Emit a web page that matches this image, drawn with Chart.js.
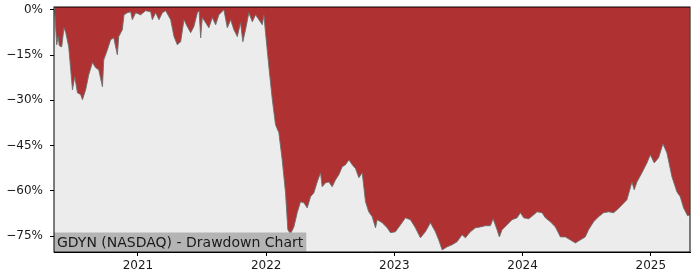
<!DOCTYPE html>
<html>
<head>
<meta charset="utf-8">
<script src="https://cdn.jsdelivr.net/npm/chart.js"></script>
<style>
  body { margin: 0; background: #fff; }
</style>
</head>
<body>
<canvas id="ddChart" width="700" height="280"></canvas>
<script>
// ── Data (decimal year, drawdown %) ─────────────────────────────────────

const dates = [
  2020.350, 2020.366, 2020.378, 2020.386, 2020.405, 2020.423, 2020.437, 2020.460, 2020.489, 2020.507,
  2020.528, 2020.553, 2020.567, 2020.592, 2020.616, 2020.645, 2020.670, 2020.694, 2020.723, 2020.733,
  2020.762, 2020.787, 2020.811, 2020.839, 2020.850, 2020.878, 2020.891, 2020.917, 2020.943, 2020.956,
  2020.982, 2021.021, 2021.060, 2021.099, 2021.112, 2021.138, 2021.164, 2021.190, 2021.216, 2021.255,
  2021.281, 2021.307, 2021.333, 2021.359, 2021.385, 2021.411, 2021.436, 2021.463, 2021.477, 2021.489,
  2021.502, 2021.528, 2021.553, 2021.580, 2021.606, 2021.631, 2021.670, 2021.697, 2021.723, 2021.748,
  2021.775, 2021.800, 2021.818, 2021.839, 2021.865, 2021.892, 2021.917, 2021.943, 2021.970, 2021.982,
  2021.995, 2022.021, 2022.048, 2022.073, 2022.099, 2022.125, 2022.151, 2022.169, 2022.190, 2022.216,
  2022.242, 2022.268, 2022.294, 2022.320, 2022.346, 2022.372, 2022.398, 2022.424, 2022.437, 2022.463,
  2022.489, 2022.515, 2022.541, 2022.567, 2022.593, 2022.619, 2022.645, 2022.671, 2022.697, 2022.723,
  2022.749, 2022.775, 2022.800, 2022.827, 2022.853, 2022.866, 2022.905, 2022.944, 2022.970, 2023.008,
  2023.048, 2023.086, 2023.125, 2023.164, 2023.203, 2023.242, 2023.281, 2023.320, 2023.346, 2023.373,
  2023.411, 2023.450, 2023.489, 2023.528, 2023.554, 2023.593, 2023.632, 2023.671, 2023.710, 2023.749,
  2023.770, 2023.801, 2023.819, 2023.840, 2023.879, 2023.918, 2023.957, 2023.983, 2024.009, 2024.048,
  2024.087, 2024.113, 2024.152, 2024.178, 2024.217, 2024.256, 2024.295, 2024.334, 2024.373, 2024.412,
  2024.450, 2024.489, 2024.515, 2024.554, 2024.593, 2024.632, 2024.671, 2024.710, 2024.737, 2024.776,
  2024.814, 2024.853, 2024.871, 2024.892, 2024.931, 2024.970, 2024.996, 2025.027, 2025.061, 2025.095,
  2025.126, 2025.165, 2025.204, 2025.230, 2025.256, 2025.287, 2025.304
];

const drawdown = [
  0.0, -11.6, -8.9, -11.9, -12.3, -6.0, -7.6, -12.3, -26.5, -22.2,
  -27.5, -28.1, -29.8, -26.5, -21.5, -17.5, -19.2, -19.9, -25.5, -16.6,
  -13.2, -9.9, -9.3, -14.9, -8.9, -6.6, -1.7, -1.0, -0.7, -3.3,
  -1.0, -1.7, -0.3, -0.7, -3.3, -1.0, -3.3, -1.0, -0.3, -3.3,
  -8.9, -11.6, -10.6, -3.3, -5.6, -7.6, -5.6, -1.0, -0.3, -9.3,
  -2.6, -4.3, -6.0, -2.6, -5.0, -1.7, 0.0, -6.0, -3.3, -6.6,
  -8.9, -4.3, -10.6, -6.6, -1.0, -4.0, -1.7, -3.3, -5.0, -1.7,
  -7.6, -18.9, -29.8, -38.1, -40.7, -49.7, -60.6, -72.8, -74.2, -71.9,
  -67.2, -63.6, -63.9, -65.6, -61.9, -60.6, -57.0, -54.0, -58.6, -57.3,
  -57.0, -58.6, -56.3, -54.6, -52.0, -51.3, -49.7, -51.3, -52.6, -55.6,
  -54.0, -63.6, -66.9, -68.5, -72.2, -69.5, -70.5, -72.2, -73.8, -73.5,
  -71.2, -68.9, -69.5, -72.2, -75.5, -73.5, -70.5, -73.5, -76.2, -79.5,
  -78.5, -77.8, -76.8, -74.5, -75.5, -73.5, -72.2, -71.9, -71.5, -71.5,
  -69.2, -72.8, -75.2, -72.8, -71.2, -69.5, -68.9, -67.2, -68.9, -69.2,
  -67.9, -66.9, -67.2, -68.9, -70.2, -71.9, -75.2, -75.2, -76.2, -77.2,
  -76.2, -75.2, -72.8, -70.2, -68.5, -67.2, -66.9, -67.2, -66.2, -64.6,
  -62.9, -57.0, -59.6, -57.0, -54.0, -50.7, -48.0, -50.7, -49.0, -44.4,
  -47.4, -55.3, -60.3, -61.9, -65.6, -68.2, -67.9
];

const yearTicks = [2021, 2022, 2023, 2024, 2025];
const pctTicks  = [0, -15, -30, -45, -60, -75];
const chartLabel = 'GDYN (NASDAQ) - Drawdown Chart';

// ── Plugins ─────────────────────────────────────────────────────────────

const FONT = "'DejaVu Sans', sans-serif";

const plotBackground = {
  id: 'plotBackground',
  beforeDatasetsDraw(chart) {
    const { ctx, chartArea: a } = chart;
    ctx.save();
    ctx.fillStyle = '#ececec';
    ctx.fillRect(a.left, a.top, a.right - a.left, a.bottom - a.top);
    ctx.restore();
  },
};

const frameAndLabel = {
  id: 'frameAndLabel',
  afterDraw(chart) {
    const { ctx, chartArea: a } = chart;
    ctx.save();
    // label box, bottom-left inside the plot
    ctx.font = `14px ${FONT}`;
    const w = ctx.measureText(chartLabel).width;
    ctx.fillStyle = '#b4b4b4';
    ctx.fillRect(a.left, a.bottom - 19.5, w + 6, 19);
    ctx.fillStyle = '#1a1a1a';
    ctx.textBaseline = 'alphabetic';
    ctx.fillText(chartLabel, a.left + 3, a.bottom - 5.5);
    // spines
    ctx.strokeStyle = '#000';
    ctx.lineWidth = 1;
    ctx.strokeRect(a.left, a.top, a.right - a.left, a.bottom - a.top);
    ctx.restore();
  },
};

// ── Chart ───────────────────────────────────────────────────────────────

new Chart(document.getElementById('ddChart'), {
  type: 'line',
  data: {
    datasets: [{
      data: dates.map((d, i) => ({ x: d, y: drawdown[i] })),
      borderColor: 'rgba(110, 110, 110, 0.9)',
      borderWidth: 1,
      backgroundColor: '#b03131',
      fill: 'end',
      pointRadius: 0,
      tension: 0,
    }],
  },
  options: {
    responsive: false,
    animation: false,
    layout: { padding: { top: 7, right: 10, left: 0, bottom: 0 } },
    plugins: {
      legend: { display: false },
      tooltip: { enabled: false },
    },
    scales: {
      x: {
        type: 'linear',
        min: 2020.345,
        max: 2025.306,
        afterBuildTicks: s => { s.ticks = yearTicks.map(v => ({ value: v })); },
        afterFit: s => { s.height = 28; s.paddingLeft = 0; s.paddingRight = 0; },
        ticks: {
          color: '#1a1a1a',
          font: { family: FONT, size: 12 },
          padding: 3,
          maxRotation: 0,
          callback: v => String(v),
        },
        grid: { drawOnChartArea: false, tickLength: 4, color: '#000' },
        border: { display: true, color: '#000' },
      },
      y: {
        min: -80.2,
        max: 0.9,
        afterBuildTicks: s => { s.ticks = pctTicks.map(v => ({ value: v })); },
        afterFit: s => { s.width = 54; s.paddingTop = 0; s.paddingBottom = 0; },
        ticks: {
          color: '#1a1a1a',
          font: { family: FONT, size: 12 },
          padding: 7,
          callback: v => (v < 0 ? '\u2212' + Math.abs(v) : v) + '%',
        },
        grid: { drawOnChartArea: false, tickLength: 4, color: '#000' },
        border: { display: true, color: '#000' },
      },
    },
  },
  plugins: [plotBackground, frameAndLabel],
});
</script>
</body>
</html>
